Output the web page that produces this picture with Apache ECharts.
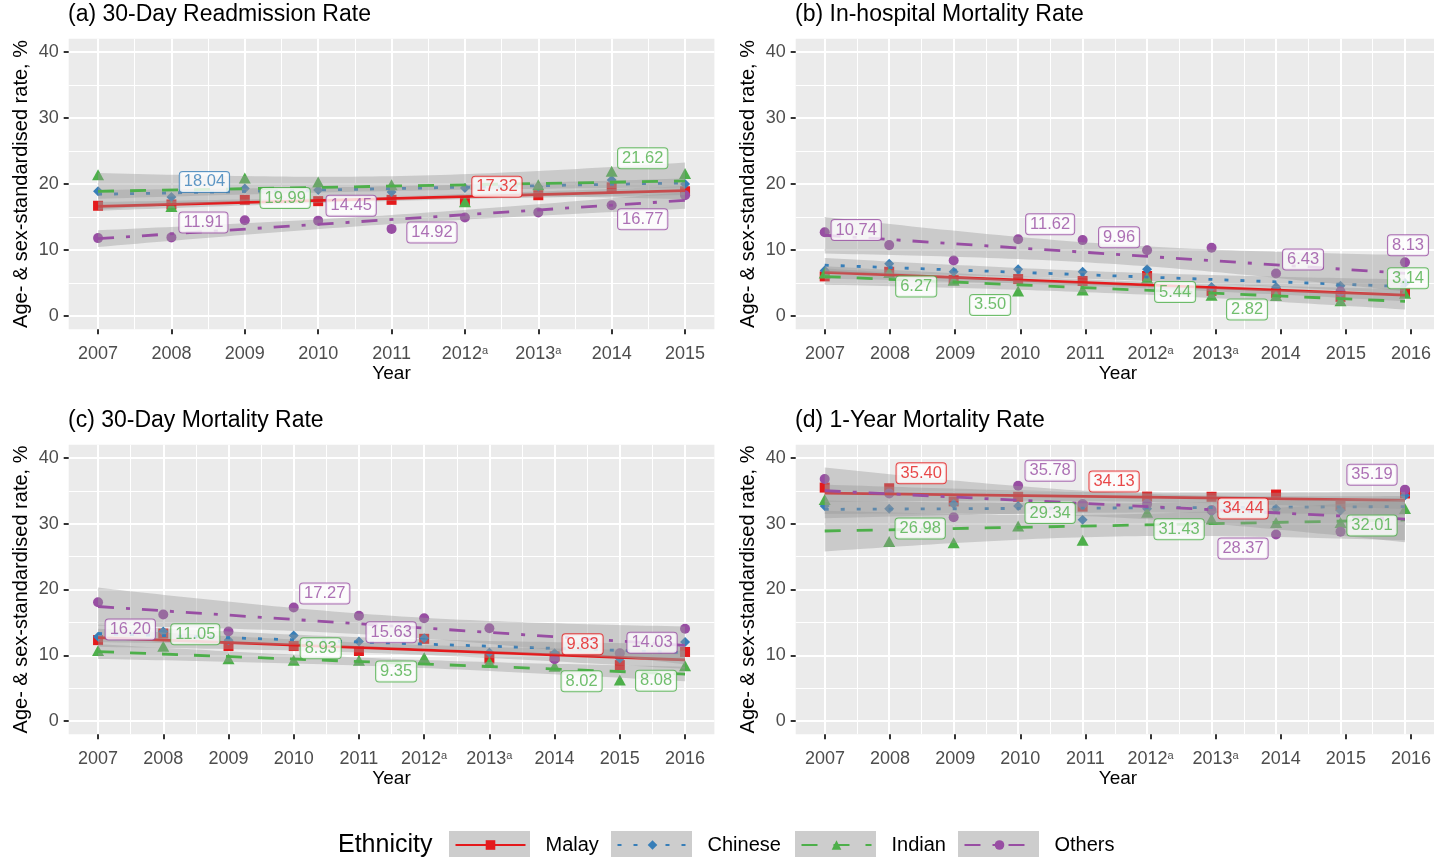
<!DOCTYPE html>
<html>
<head>
<meta charset="utf-8">
<script src="https://cdn.jsdelivr.net/npm/echarts@6/dist/echarts.min.js"></script>
<style>
  html, body { margin: 0; padding: 0; background: #ffffff; }
  #chart { width: 1434px; height: 862px; }
</style>
</head>
<body>
<div id="chart"></div>
<script>
// ---------------- data ----------------
const yearsNine = [2007, 2008, 2009, 2010, 2011, 2012, 2013, 2014, 2015];
const yearsTen = [2007, 2008, 2009, 2010, 2011, 2012, 2013, 2014, 2015, 2016];
const ethnicities = ['Malay', 'Chinese', 'Indian', 'Others'];
const yTicks = [0, 10, 20, 30, 40];
const footnotedYears = [2012, 2013];

const panelTitles = [
  '(a) 30-Day Readmission Rate',
  '(b) In-hospital Mortality Rate',
  '(c) 30-Day Mortality Rate',
  '(d) 1-Year Mortality Rate'
];

// (a) 30-day readmission rate, %
const readmitMalay   = [16.70, 16.90, 17.60, 17.40, 17.60, 17.32, 18.30, 19.50, 18.90];
const readmitChinese = [18.90, 18.04, 19.30, 19.10, 18.80, 19.40, 19.60, 20.60, 20.00];
const readmitIndian  = [21.10, 16.30, 20.60, 19.99, 19.60, 17.00, 19.60, 21.62, 21.30];
const readmitOthers  = [11.80, 11.91, 14.50, 14.45, 13.20, 14.92, 15.70, 16.77, 18.30];

// (b) in-hospital mortality rate, %
const inhospMalay   = [6.00, 6.70, 5.45, 5.60, 5.30, 6.06, 3.80, 3.50, 2.90, 3.50];
const inhospChinese = [6.90, 7.90, 6.70, 7.10, 6.70, 7.10, 4.40, 4.40, 4.60, 5.00];
const inhospIndian  = [6.20, 6.27, 5.10, 3.50, 3.65, 5.44, 2.85, 2.82, 2.00, 3.14];
const inhospOthers  = [12.70, 10.74, 8.40, 11.62, 11.50, 9.96, 10.35, 6.43, 3.70, 8.13];

// (c) 30-day mortality rate, %
const day30Malay   = [12.30, 13.30, 11.40, 11.40, 10.65, 12.50, 9.50, 9.83, 8.50, 10.50];
const day30Chinese = [12.80, 13.60, 12.30, 13.00, 12.10, 12.60, 10.40, 10.30, 9.50, 12.00];
const day30Indian  = [10.40, 11.05, 9.15, 8.93, 8.95, 9.35, 8.65, 8.02, 5.95, 8.08];
const day30Others  = [18.05, 16.20, 13.60, 17.27, 16.00, 15.63, 14.10, 9.40, 10.30, 14.03];

// (d) 1-year mortality rate, %
const year1Malay   = [35.50, 35.40, 33.40, 34.10, 32.60, 34.13, 34.10, 34.44, 32.70, 34.60];
const year1Chinese = [32.70, 32.30, 33.00, 32.70, 30.60, 32.30, 31.80, 32.30, 32.00, 34.30];
const year1Indian  = [33.40, 26.98, 26.80, 29.34, 27.20, 31.43, 30.40, 29.90, 29.90, 32.01];
const year1Others  = [36.80, 34.60, 31.00, 35.78, 33.00, 33.00, 32.10, 28.37, 28.80, 35.19];

// points that carry a value label: [ethnicity, year]
const readmitLabelled = [['Chinese', 2008], ['Others', 2008], ['Indian', 2010], ['Others', 2010],
                         ['Malay', 2012], ['Others', 2012], ['Indian', 2014], ['Others', 2014]];
const inhospLabelled  = [['Others', 2008], ['Indian', 2008], ['Indian', 2010], ['Others', 2010],
                         ['Others', 2012], ['Indian', 2012], ['Others', 2014], ['Indian', 2014],
                         ['Others', 2016], ['Indian', 2016]];
const day30Labelled   = [['Others', 2008], ['Indian', 2008], ['Others', 2010], ['Indian', 2010],
                         ['Others', 2012], ['Indian', 2012], ['Malay', 2014], ['Indian', 2014],
                         ['Others', 2016], ['Indian', 2016]];
const year1Labelled   = [['Malay', 2008], ['Indian', 2008], ['Others', 2010], ['Indian', 2010],
                         ['Malay', 2012], ['Indian', 2012], ['Malay', 2014], ['Others', 2014],
                         ['Others', 2016], ['Indian', 2016]];

// ---------------- layout & style ----------------
const FONT = '"Liberation Sans", Arial, Helvetica, sans-serif';
const COLORS  = { Malay: '#E41A1C', Chinese: '#377EB8', Indian: '#4DAF4A', Others: '#984EA3' };
const SYMBOLS = { Malay: 'rect', Chinese: 'diamond', Indian: 'triangle', Others: 'circle' };
const SYMBOL_SIZE = { Malay: 10, Chinese: 10, Indian: [12, 11], Others: 10 };
const SYMBOL_SHIFT = { Malay: [0, 0], Chinese: [0, 0], Indian: [0, -2], Others: [0, 0] };
const DASH = { Malay: 'solid', Chinese: [4, 12], Indian: [16, 16], Others: [16, 12, 4, 12] };

// panel rectangles in px (grey plotting area)
const panelBoxes = [
  { left: 68.7,  top: 38.8,   width: 645.7, height: 290.4 },
  { left: 795.7, top: 38.8,   width: 644.6, height: 290.4 },
  { left: 68.7,  top: 444.85, width: 645.7, height: 289.3 },
  { left: 795.7, top: 444.85, width: 644.6, height: 289.3 }
];
const titleSpots = [[68, 2], [795, 2], [68, 408], [795, 408]];

// label box displacement from its point, px
const readmitLabelShift = [[33, -15], [32, -15], [-33, 14], [33, -15], [32, -15], [-33, 15], [31, -15], [31, 14]];
const inhospLabelShift  = [[-33, -15], [27, 12], [-28, 12], [32, -15], [-28, -13], [28, 12], [27, -14], [-29, 12], [3, -17], [3, -17]];
const day30LabelShift   = [[-33, 15], [32, -14], [31, -14], [27, -14], [-33, 14], [-28, 12], [28, -12], [27, 13], [-33, 14], [-29, 13]];
const year1LabelShift   = [[32, -15], [31, -15], [32, -15], [32, -15], [-33, -15], [32, 15], [-33, 14], [-33, 14], [-33, -15], [-33, 15]];

const legendKeyLeft = [449, 611, 795, 958];

const panels = [
  { years: yearsNine, values: { Malay: readmitMalay, Chinese: readmitChinese, Indian: readmitIndian, Others: readmitOthers },
    labelled: readmitLabelled, shifts: readmitLabelShift },
  { years: yearsTen, values: { Malay: inhospMalay, Chinese: inhospChinese, Indian: inhospIndian, Others: inhospOthers },
    labelled: inhospLabelled, shifts: inhospLabelShift },
  { years: yearsTen, values: { Malay: day30Malay, Chinese: day30Chinese, Indian: day30Indian, Others: day30Others },
    labelled: day30Labelled, shifts: day30LabelShift },
  { years: yearsTen, values: { Malay: year1Malay, Chinese: year1Chinese, Indian: year1Indian, Others: year1Others },
    labelled: year1Labelled, shifts: year1LabelShift }
];

// ---------------- least-squares trend with 95% confidence band ----------------
const T975 = { 7: 2.364624, 8: 2.306004 };
function linearTrend(xs, ys) {
  const n = xs.length;
  const xbar = xs.reduce((s, v) => s + v, 0) / n;
  const ybar = ys.reduce((s, v) => s + v, 0) / n;
  let sxx = 0, sxy = 0;
  for (let i = 0; i < n; i++) { sxx += (xs[i] - xbar) ** 2; sxy += (xs[i] - xbar) * (ys[i] - ybar); }
  const slope = sxy / sxx, icpt = ybar - slope * xbar;
  let sse = 0;
  for (let i = 0; i < n; i++) sse += (ys[i] - icpt - slope * xs[i]) ** 2;
  const s = Math.sqrt(sse / (n - 2)), t = T975[n - 2];
  const at = x => icpt + slope * x;
  const band = [];
  const steps = 60;
  for (let k = 0; k <= steps; k++) {
    const x = xs[0] + (xs[n - 1] - xs[0]) * k / steps;
    const half = t * s * Math.sqrt(1 / n + (x - xbar) ** 2 / sxx);
    band.push([x, at(x) - half, at(x) + half]);
  }
  return { line: [[xs[0], at(xs[0])], [xs[n - 1], at(xs[n - 1])]], band };
}

// ---------------- option ----------------
const option = {
  animation: false,
  backgroundColor: '#ffffff',
  textStyle: { fontFamily: FONT },
  grid: [], xAxis: [], yAxis: [], series: [], title: [], legend: [], graphic: []
};

const yLo = yTicks[0], yHi = yTicks[yTicks.length - 1];
const yPad = 0.05 * (yHi - yLo);
const fitSeries = [], otherSeries = [];

panels.forEach((pn, p) => {
  const box = panelBoxes[p];
  const x0 = pn.years[0], x1 = pn.years[pn.years.length - 1];
  const xPad = 0.05 * (x1 - x0);
  const xMin = x0 - xPad, xMax = x1 + xPad;
  const yMin = yLo - yPad, yMax = yHi + yPad;
  const pxX = box.width / (xMax - xMin), pxY = box.height / (yMax - yMin);
  const gP = 2 * p, gA = 2 * p + 1;

  // grey panel with its own data scale
  option.grid.push({ left: box.left, top: box.top, width: box.width, height: box.height,
                     show: true, backgroundColor: '#EBEBEB', borderWidth: 0, z: 0 });
  option.xAxis.push({ gridIndex: gP, type: 'value', min: xMin, max: xMax, show: false });
  option.yAxis.push({ gridIndex: gP, type: 'value', min: yMin, max: yMax, show: false });

  // axis frame spanning the tick range, shifted out to the panel edges
  const xOff = (x0 - xMin) * pxX, yOff = (yLo - yMin) * pxY;
  option.grid.push({ left: box.left + xOff, top: box.top + (yMax - yHi) * pxY,
                     width: (x1 - x0) * pxX, height: (yHi - yLo) * pxY });
  option.xAxis.push({
    gridIndex: gA, type: 'value', min: x0, max: x1, interval: 1, offset: yOff, z: 10,
    axisLine: { show: false, onZero: false },
    axisTick: { show: true, inside: false, length: 5, lineStyle: { color: '#333333', width: 2 } },
    splitLine: { show: false },
    axisLabel: {
      show: true, margin: 16, fontSize: 18, color: '#4D4D4D', fontFamily: FONT,
      showMinLabel: true, showMaxLabel: true,
      formatter: v => footnotedYears.includes(v) ? v + '{sup|a}' : String(v),
      rich: { sup: { fontSize: 11, color: '#4D4D4D', verticalAlign: 'top', fontFamily: FONT } }
    },
    name: 'Year', nameLocation: 'middle', nameGap: 35,
    nameTextStyle: { fontSize: 19, color: '#000000', fontFamily: FONT }
  });
  option.yAxis.push({
    gridIndex: gA, type: 'value', min: yLo, max: yHi, interval: 10, offset: xOff, z: 10,
    axisLine: { show: false, onZero: false },
    axisTick: { show: true, inside: false, length: 5, lineStyle: { color: '#333333', width: 2 } },
    splitLine: { show: false },
    axisLabel: { show: true, margin: 10, fontSize: 18, color: '#4D4D4D', fontFamily: FONT },
    name: 'Age- & sex-standardised rate, %', nameLocation: 'middle', nameRotate: 90, nameGap: 37,
    nameTextStyle: { fontSize: 20, color: '#000000', fontFamily: FONT }
  });

  // white grid lines, kept underneath every mark
  const minorX = pn.years.slice(1).map(y => y - 0.5);
  const minorY = yTicks.slice(1).map(v => v - 5);
  const gl = [];
  minorX.forEach(v => gl.push({ xAxis: v, lineStyle: { width: 1 } }));
  minorY.forEach(v => gl.push({ yAxis: v, lineStyle: { width: 1 } }));
  pn.years.forEach(v => gl.push({ xAxis: v, lineStyle: { width: 2 } }));
  yTicks.forEach(v => gl.push({ yAxis: v, lineStyle: { width: 2 } }));
  otherSeries.push({
    type: 'line', xAxisIndex: gP, yAxisIndex: gP, data: [], z: 1, silent: true,
    markLine: { z: 1, silent: true, symbol: ['none', 'none'], label: { show: false }, animation: false,
                lineStyle: { color: '#FFFFFF', type: 'solid', opacity: 1 }, data: gl }
  });

  ethnicities.forEach((g, gi) => {
    const ys = pn.values[g];
    // observed points
    otherSeries.push({
      type: 'scatter', xAxisIndex: gP, yAxisIndex: gP, z: 2, silent: true,
      symbol: SYMBOLS[g], symbolSize: SYMBOL_SIZE[g], symbolOffset: SYMBOL_SHIFT[g],
      itemStyle: { color: COLORS[g], opacity: 1 },
      data: pn.years.map((yr, i) => [yr, ys[i]])
    });
    const trend = linearTrend(pn.years, ys);
    // confidence ribbon
    otherSeries.push({
      type: 'custom', coordinateSystem: 'cartesian2d', xAxisIndex: gP, yAxisIndex: gP,
      z: 3 + 2 * gi, silent: true, data: trend.band,
      renderItem: (params, api) => {
        if (params.dataIndex !== 0) return null;
        const upper = trend.band.map(q => api.coord([q[0], q[2]]));
        const lower = trend.band.map(q => api.coord([q[0], q[1]])).reverse();
        return { type: 'polygon', shape: { points: upper.concat(lower) },
                 style: { fill: 'rgba(153,153,153,0.4)' } };
      }
    });
    // fitted line
    fitSeries.push({
      name: g, type: 'line', xAxisIndex: gP, yAxisIndex: gP, z: 4 + 2 * gi, silent: true,
      symbol: SYMBOLS[g], showSymbol: false,
      itemStyle: { color: COLORS[g] },
      lineStyle: { color: COLORS[g], width: 2.8, type: DASH[g] },
      data: trend.line
    });
  });

  // value labels
  otherSeries.push({
    type: 'scatter', xAxisIndex: gP, yAxisIndex: gP, z: 30, silent: true,
    symbol: 'circle', symbolSize: 1, itemStyle: { color: 'rgba(0,0,0,0)' },
    data: pn.labelled.map(([g, yr], k) => {
      const v = pn.values[g][pn.years.indexOf(yr)];
      return {
        value: [yr, v],
        label: {
          show: true, position: 'inside', offset: pn.shifts[k],
          formatter: v.toFixed(2), fontSize: 16.5, fontFamily: FONT, color: COLORS[g],
          backgroundColor: '#FFFFFF', borderColor: COLORS[g], borderWidth: 1, borderRadius: 3,
          padding: [2, 4, 1, 4], lineHeight: 17
        }
      };
    })
  });

  option.title.push({
    text: panelTitles[p], left: titleSpots[p][0], top: titleSpots[p][1], padding: 0,
    textStyle: { fontSize: 23, fontWeight: 'normal', color: '#000000', fontFamily: FONT, lineHeight: 26 }
  });
});

option.series = fitSeries.concat(otherSeries);

// legend
option.title.push({
  text: 'Ethnicity', left: 338, top: 831, padding: 0,
  textStyle: { fontSize: 25, fontWeight: 'normal', color: '#000000', fontFamily: FONT, lineHeight: 28 }
});
ethnicities.forEach((g, i) => {
  option.graphic.push({ type: 'rect', left: legendKeyLeft[i], top: 831, z: 0, silent: true,
                        shape: { width: 81, height: 26 }, style: { fill: '#CDCDCD' } });
  option.legend.push({
    data: [g], left: legendKeyLeft[i] + 5.5, top: 835, orient: 'horizontal',
    itemWidth: 70, itemHeight: 12, padding: 0, selectedMode: false,
    textStyle: { fontSize: 20, color: '#000000', fontFamily: FONT, padding: [0, 0, 0, 15] }
  });
});

const chart = echarts.init(document.getElementById('chart'), null, { renderer: 'canvas' });
chart.setOption(option);
</script>
</body>
</html>
